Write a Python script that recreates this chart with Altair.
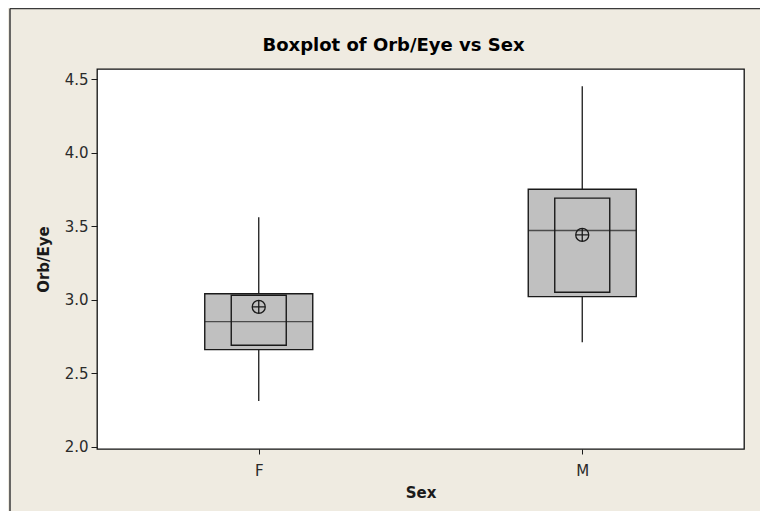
import altair as alt
import pandas as pd

# ---- data ----
sex = ["F", "M"]
whisker_low = [2.31, 2.71]
q1 = [2.66, 3.02]
median = [2.85, 3.47]
q3 = [3.04, 3.75]
whisker_high = [3.56, 4.45]
ci_low = [2.69, 3.05]
ci_high = [3.03, 3.69]
mean = [2.95, 3.44]

y_ticks = [2.0, 2.5, 3.0, 3.5, 4.0, 4.5]

df = pd.DataFrame({
    "Sex": sex, "lo": whisker_low, "q1": q1, "med": median, "q3": q3,
    "hi": whisker_high, "cilo": ci_low, "cihi": ci_high, "mean": mean,
})

FONT = "DejaVu Sans"
INK = "#1a1a1a"
BOX = "#c0c0c0"

x = alt.X("Sex:N", title="Sex",
          scale=alt.Scale(type="point", padding=0.5),
          axis=alt.Axis(labelAngle=0, tickSize=5, labelPadding=9, titlePadding=7,
                        domain=False, tickColor=INK, labelColor="#2a2a2a",
                        labelFont=FONT, labelFontSize=15, titleFont=FONT,
                        titleFontSize=15, titleFontWeight="bold", titleColor=INK))
yscale = alt.Scale(domain=[1.984, 4.568], nice=False, zero=False)
yaxis = alt.Axis(values=y_ticks, format=".1f", tickSize=6, labelPadding=3,
                 titlePadding=13, grid=False, domain=False, tickColor=INK,
                 labelColor="#2a2a2a", labelFont=FONT, labelFontSize=15,
                 titleFont=FONT, titleFontSize=15, titleFontWeight="bold",
                 titleColor=INK)

base = alt.Chart(df)

whisk = base.mark_rule(color=INK, strokeWidth=1.3).encode(
    x=x, y=alt.Y("lo:Q", scale=yscale, axis=yaxis, title="Orb/Eye"), y2="hi:Q")

box = base.mark_bar(size=108, fill=BOX, stroke=INK, strokeWidth=1.4).encode(
    x=x, y=alt.Y("q1:Q", scale=yscale), y2="q3:Q")

ci = base.mark_bar(size=55, fill=BOX, stroke=INK, strokeWidth=1.4).encode(
    x=x, y=alt.Y("cilo:Q", scale=yscale), y2="cihi:Q")

med = base.mark_tick(size=108, thickness=1.4, color=INK).encode(
    x=x, y=alt.Y("med:Q", scale=yscale))

mean_pt = base.mark_point(
    shape="M-1,0A1,1,0,1,1,1,0A1,1,0,1,1,-1,0ZM-1,0L1,0M0,-1L0,1",
    size=170, filled=False, stroke=INK, strokeWidth=1.3, opacity=1).encode(
    x=x, y=alt.Y("mean:Q", scale=yscale))

# outer frame lines of the graph window (top and left)
frame_top = alt.Chart(pd.DataFrame({"k": [0]})).mark_rule(
    color="#3a3a3a", strokeWidth=1.5).encode(
    x=alt.value(-87), x2=alt.value(680), y=alt.value(-60.5))
frame_left = alt.Chart(pd.DataFrame({"k": [0]})).mark_rule(
    color="#3a3a3a", strokeWidth=1.5).encode(
    x=alt.value(-87), y=alt.value(-60.5), y2=alt.value(460))

chart = alt.layer(frame_top, frame_left, whisk, box, ci, med, mean_pt).properties(
    width=647, height=380,
    title=alt.TitleParams("Boxplot of Orb/Eye vs Sex", anchor="middle", dx=-27,
                          offset=-61, baseline="alphabetic", font=FONT,
                          fontSize=18, fontWeight="bold", color="#000000"),
    autosize=alt.AutoSizeParams(type="none"),
    padding={"left": 89, "top": 61, "right": 16, "bottom": 62},
    background="#efebe1",
).configure_view(
    fill="white", stroke="#111111", strokeWidth=1.3
)

chart.save("out.html", embed_options={"renderer": "svg", "actions": False})
